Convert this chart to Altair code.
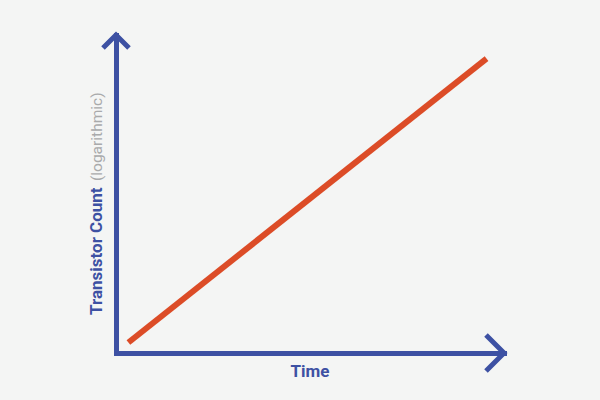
import altair as alt
import pandas as pd

# ---- data (schematic: log transistor count vs. time) ----
time = [3.2, 95.5]
count = [3.3, 92.6]
axis_max = 100
x_title = "Time"
y_title = "Transistor Count"
y_note = "(logarithmic)"

BLUE = "#3d51a3"
RED = "#dc4c27"
GRAY = "#a9aaab"
BG = "#f4f5f4"
FONT = "Roboto"

W, H = 388, 318

line_df = pd.DataFrame({"time": time, "count": count})
one = pd.DataFrame({"k": [0]})

xs = alt.Scale(domain=[0, axis_max], nice=False, zero=False)
ys = alt.Scale(domain=[0, axis_max], nice=False, zero=False)
ax = dict(domainColor=BLUE, domainWidth=5, domainCap="square", ticks=False,
          labels=False, grid=False, title=None)

line = alt.Chart(line_df).mark_line(color=RED, strokeWidth=6, strokeCap="butt").encode(
    x=alt.X("time:Q", scale=xs, axis=alt.Axis(**ax)),
    y=alt.Y("count:Q", scale=ys, axis=alt.Axis(**ax)),
)

x_arrow = alt.Chart(one).mark_point(
    shape="M-1,-1L0,0L-1,1", size=1296, filled=False, stroke=BLUE,
    strokeWidth=5, strokeJoin="miter", strokeCap="butt", opacity=1,
).encode(
    x=alt.X(datum=axis_max, scale=xs, axis=alt.Axis(**ax)),
    y=alt.Y(datum=0, scale=ys, axis=alt.Axis(**ax)),
)

y_arrow = alt.Chart(one).mark_point(
    shape="M-1,1L0,0L1,1", size=676, filled=False, stroke=BLUE,
    strokeWidth=5, strokeJoin="miter", strokeCap="butt", opacity=1,
).encode(
    x=alt.X(datum=0, scale=xs, axis=alt.Axis(**ax)),
    y=alt.Y(datum=axis_max, scale=ys, axis=alt.Axis(**ax)),
)

y_title_mark = alt.Chart(one).mark_text(
    angle=270, align="left", baseline="alphabetic", font=FONT, fontSize=17,
    fontWeight="bold", color=BLUE,
).encode(text=alt.value(y_title), x=alt.value(-14), y=alt.value(280))

y_note_mark = alt.Chart(one).mark_text(
    angle=270, align="left", baseline="alphabetic", font=FONT, fontSize=15.5,
    fontWeight="normal", color=GRAY,
).encode(text=alt.value(y_note), x=alt.value(-14), y=alt.value(146))

x_title_mark = alt.Chart(one).mark_text(
    align="center", baseline="alphabetic", font=FONT, fontSize=17,
    fontWeight="bold", color=BLUE,
).encode(text=alt.value(x_title), x=alt.value(W / 2), y=alt.value(342))

chart = alt.layer(line, x_arrow, y_arrow, y_title_mark, y_note_mark, x_title_mark).properties(
    width=W, height=H,
    padding={"left": 116, "top": 35, "right": 600 - 116 - W, "bottom": 400 - 35 - H},
    autosize=alt.AutoSizeParams(type="none"),
    background=BG,
).configure_view(stroke=None)

chart.save("out.html", embed_options={"renderer": "svg", "actions": False})
